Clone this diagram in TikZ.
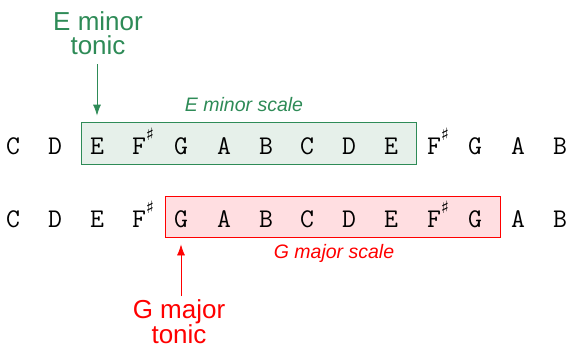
\documentclass[tikz,border=0pt]{standalone}
\usepackage{fontspec}
\setmainfont{Liberation Sans}
\newfontfamily\symfont{DejaVu Sans}
\usetikzlibrary{positioning,arrows.meta}
\definecolor{scalegreen}{RGB}{46,139,87}
\definecolor{greenfill}{RGB}{230,240,234}
\definecolor{scalered}{RGB}{255,0,0}
\definecolor{redfill}{RGB}{255,222,225}
\newcommand{\fsharp}{F\rlap{\raisebox{0.5em}{\fontsize{17}{17}\symfont ♯}}}
\tikzset{
  note/.style={font=\ttfamily\fontsize{27}{27}\selectfont, inner sep=0pt, anchor=base},
  gbox/.style={draw=scalegreen, fill=greenfill, thick, minimum width=335, minimum height=42, inner sep=0pt},
  rbox/.style={draw=scalered, fill=redfill, thick, minimum width=335, minimum height=41, inner sep=0pt},
  scalelabel/.style={font=\itshape\fontsize{19.5}{21}\selectfont},
  toniclabel/.style={font=\fontsize{26}{24}\selectfont, align=center},
}
\begin{document}
\begin{tikzpicture}[x=1pt, y=-1pt]
	\useasboundingbox (0,0) rectangle (568,348);
	% scale boxes
	\node [gbox] (emin) at (248.5,143) {};
	\node [rbox] (gmaj) at (332.5,216.5) {};
	% top row
	\node [note] (t1) at (13,154) {C};
	\node [note] (t2) at (55,154) {D};
	\node [note] (t3) at (97,154) {E};
	\node [note] (t4) at (139,154) {\fsharp};
	\node [note] (t5) at (181,154) {G};
	\node [note] (t6) at (224,154) {A};
	\node [note] (t7) at (266,154) {B};
	\node [note] (t8) at (307,154) {C};
	\node [note] (t9) at (349,154) {D};
	\node [note] (t10) at (391,154) {E};
	\node [note] (t11) at (434,154) {\fsharp};
	\node [note] (t12) at (475,154) {G};
	\node [note] (t13) at (518,154) {A};
	\node [note] (t14) at (560,154) {B};
	% bottom row
	\node [note] (b1) at (13,227) {C};
	\node [note] (b2) at (55,227) {D};
	\node [note] (b3) at (97,227) {E};
	\node [note] (b4) at (139,227) {\fsharp};
	\node [note] (b5) at (181,227) {G};
	\node [note] (b6) at (224,227) {A};
	\node [note] (b7) at (266,227) {B};
	\node [note] (b8) at (307,227) {C};
	\node [note] (b9) at (349,227) {D};
	\node [note] (b10) at (391,227) {E};
	\node [note] (b11) at (434,227) {\fsharp};
	\node [note] (b12) at (475,227) {G};
	\node [note] (b13) at (518,227) {A};
	\node [note] (b14) at (560,227) {B};
	% labels
	\node [scalelabel, text=scalegreen] (elabel) at (244,105) {E minor scale};
	\node [scalelabel, text=scalered] (glabel) at (334,253) {G major scale};
	\node [toniclabel, text=scalegreen] (etonic) at (98,33) {E minor\\tonic};
	\node [toniclabel, text=scalered] (gtonic) at (179,322) {G major\\tonic};
	\path[-{Latex[length=11pt,width=8pt]}, thick]
		(t3 |- 0,64) edge[scalegreen] ([yshift=6pt]t3 |- emin.north)
		(b5 |- 0,296) edge[scalered] ([yshift=-7pt]b5 |- gmaj.south);
\end{tikzpicture}
\end{document}
